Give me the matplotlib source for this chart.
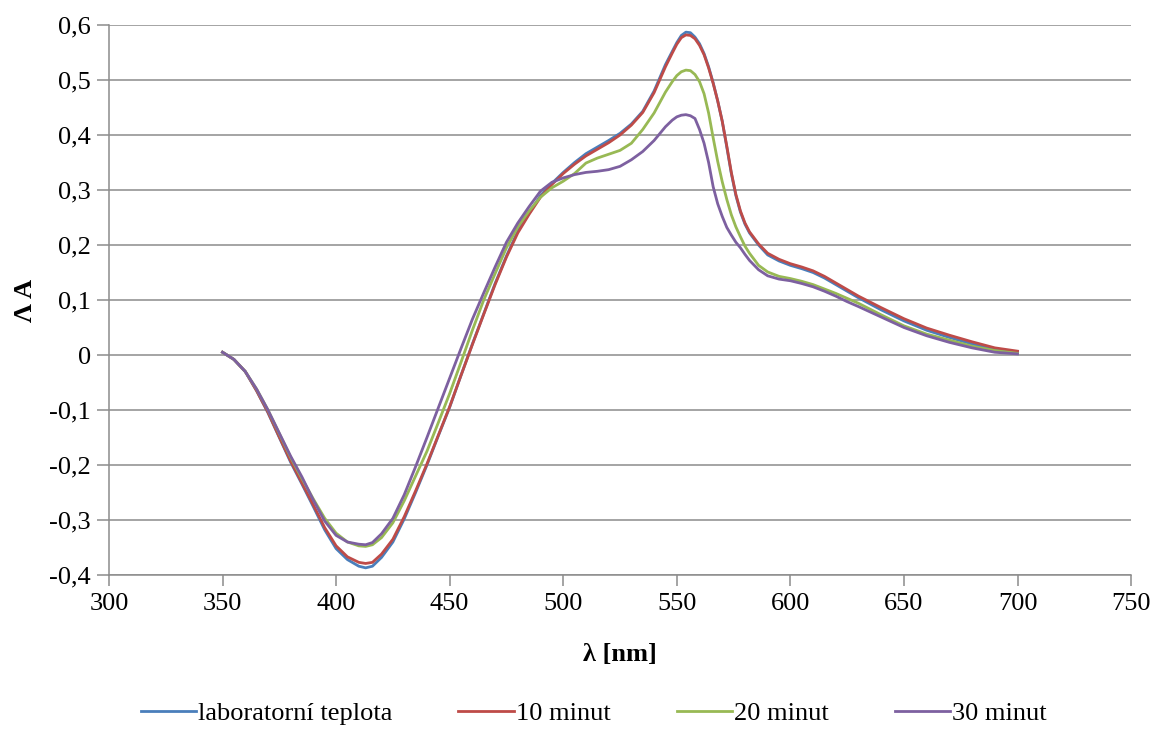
import numpy as np
import matplotlib.pyplot as plt
from matplotlib.ticker import FuncFormatter, MultipleLocator

plt.rcParams['font.family'] = ['Liberation Serif', 'DejaVu Serif']

# vlnove delky [nm]
wl = [350, 355, 360, 365, 370, 375, 380, 385, 390, 395, 400, 405, 410, 413, 416,
      420, 425, 430, 435, 440, 445, 450, 455, 460, 465, 470, 475, 480, 485, 490,
      495, 500, 505, 510, 515, 520, 525, 530, 535, 540,
      545, 548, 550, 552, 554, 556, 558, 560, 562, 564, 566, 568, 570, 572, 574,
      576, 578, 580, 582, 586, 590, 595, 600, 605, 610, 615, 620, 625, 630,
      640, 650, 660, 670, 680, 690, 700]

lab = [0.005, -0.008, -0.03, -0.065, -0.105, -0.15, -0.195, -0.235, -0.276, -0.318,
       -0.352, -0.372, -0.384, -0.387, -0.384, -0.368, -0.34, -0.298, -0.25, -0.2,
       -0.147, -0.095, -0.037, 0.02, 0.075, 0.13, 0.18, 0.225, 0.258, 0.29,
       0.312, 0.332, 0.35, 0.366, 0.378, 0.39, 0.403, 0.42, 0.443, 0.48,
       0.528, 0.552, 0.568, 0.581, 0.587, 0.586, 0.578, 0.566, 0.548, 0.524, 0.495,
       0.462, 0.425, 0.378, 0.33,
       0.29, 0.26, 0.238, 0.222, 0.2, 0.182, 0.171, 0.163, 0.157, 0.15, 0.14,
       0.128, 0.116, 0.104,
       0.082, 0.062, 0.045, 0.032, 0.02, 0.01, 0.005]

m10 = [0.005, -0.008, -0.03, -0.065, -0.104, -0.149, -0.193, -0.233, -0.273, -0.314,
       -0.347, -0.367, -0.377, -0.379, -0.377, -0.362, -0.335, -0.294, -0.247, -0.198,
       -0.146, -0.094, -0.037, 0.019, 0.074, 0.128, 0.178, 0.222, 0.256, 0.287,
       0.31, 0.33, 0.347, 0.362, 0.374, 0.386, 0.4, 0.418, 0.441, 0.477,
       0.524, 0.549, 0.565, 0.577, 0.582, 0.581, 0.575, 0.563, 0.546, 0.522, 0.494,
       0.462, 0.425, 0.38, 0.332,
       0.292, 0.262, 0.24, 0.224, 0.202, 0.185, 0.174, 0.166, 0.16, 0.153, 0.143,
       0.131, 0.119, 0.107,
       0.086, 0.066, 0.049, 0.036, 0.024, 0.013, 0.007]

m20 = [0.005, -0.008, -0.03, -0.062, -0.1, -0.143, -0.186, -0.225, -0.262, -0.297,
       -0.324, -0.34, -0.347, -0.348, -0.345, -0.332, -0.305, -0.265, -0.22, -0.175,
       -0.123, -0.07, -0.013, 0.045, 0.1, 0.148, 0.195, 0.233, 0.262, 0.287,
       0.304, 0.316, 0.33, 0.349, 0.358, 0.365, 0.372, 0.385, 0.41, 0.44,
       0.478, 0.497, 0.508, 0.515, 0.518, 0.517, 0.51, 0.497, 0.475, 0.44, 0.395,
       0.352, 0.315, 0.283, 0.255,
       0.233, 0.215, 0.198, 0.185, 0.163, 0.151, 0.143, 0.139, 0.134, 0.128, 0.12,
       0.112, 0.103, 0.094,
       0.073, 0.053, 0.038, 0.027, 0.016, 0.008, 0.003]

m30 = [0.005, -0.008, -0.03, -0.062, -0.1, -0.142, -0.184, -0.222, -0.264, -0.302,
       -0.328, -0.34, -0.344, -0.345, -0.341, -0.325, -0.297, -0.254, -0.203, -0.15,
       -0.096, -0.042, 0.012, 0.065, 0.113, 0.16, 0.205, 0.24, 0.27, 0.298,
       0.314, 0.322, 0.328, 0.332, 0.334, 0.337, 0.343, 0.355, 0.37, 0.39,
       0.415, 0.427, 0.433, 0.436, 0.437, 0.435, 0.43, 0.41, 0.385, 0.35, 0.306,
       0.275, 0.252, 0.232, 0.218,
       0.205, 0.195, 0.183, 0.172, 0.155, 0.144, 0.138, 0.135, 0.13, 0.124, 0.116,
       0.107, 0.097, 0.088,
       0.069, 0.05, 0.035, 0.023, 0.013, 0.005, 0.002]

labels = ['laboratorní teplota', '10 minut', '20 minut', '30 minut']
colors = ['#4A7EBB', '#BE4B48', '#98B954', '#7D60A0']

fig = plt.figure(figsize=(11.53, 7.31), dpi=100)
ax = fig.add_axes([0.0945, 0.2134, 0.8865, 0.7524])

for ys, lbl, c in zip([lab, m10, m20, m30], labels, colors):
    ax.plot(wl, ys, color=c, lw=2.0, label=lbl)

ax.set_xlim(300, 750)
ax.set_ylim(-0.4, 0.6)
ax.xaxis.set_major_locator(MultipleLocator(50))
ax.yaxis.set_major_locator(MultipleLocator(0.1))
ax.yaxis.set_major_formatter(FuncFormatter(
    lambda v, p: '0' if abs(v) < 1e-9 else ('%.1f' % v).replace('.', ',')))

ax.grid(axis='y', color='#8c8c8c', lw=1.1)
ax.set_axisbelow(True)
for s in ['top', 'right']:
    ax.spines[s].set_visible(False)
for s in ['left', 'bottom']:
    ax.spines[s].set_color('#8c8c8c')
    ax.spines[s].set_linewidth(1.1)
ax.tick_params(axis='x', direction='out', length=8, color='#8c8c8c', width=1.1,
               labelsize=19, pad=5)
ax.tick_params(axis='y', direction='out', length=9, color='#8c8c8c', width=1.1,
               labelsize=19, pad=4)

ax.set_xlabel('λ [nm]', fontsize=19, fontweight='bold', labelpad=20)
ax.set_ylabel('Λ A', fontsize=19, fontweight='bold', labelpad=9)

fig.legend(loc='center', bbox_to_anchor=(0.515, 0.024), ncol=4, frameon=False,
           fontsize=19, handlelength=2.1, handletextpad=0.08, columnspacing=2.5)

fig.savefig('out.png', dpi=100)
